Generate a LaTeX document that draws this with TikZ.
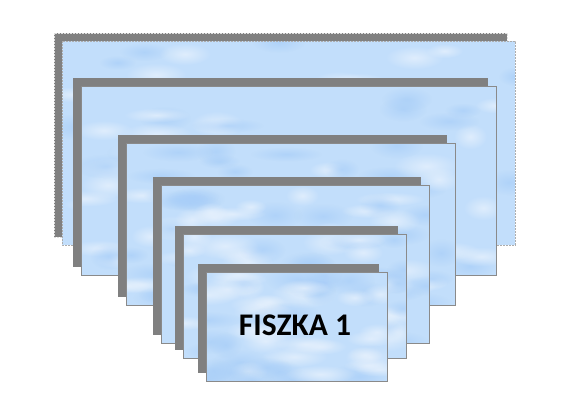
\documentclass[tikz,border=0pt]{standalone}
\usepackage{fontspec}
\setmainfont{Carlito}
\usetikzlibrary{fadings}
\definecolor{cardbase}{RGB}{194,222,251}
\definecolor{cardlight}{RGB}{230,241,253}
\definecolor{carddark}{RGB}{168,206,248}
\definecolor{shadowgray}{RGB}{128,128,128}
\definecolor{edgegray}{RGB}{138,138,138}
\tikzfading[name=fuzzyblob, inner color=transparent!0, outer color=transparent!100]
\tikzset{
  cardshadow/.style={fill=shadowgray, draw=none},
  cardface/.style={fill=cardbase, draw=none},
  cardedge/.style={draw=edgegray, line width=0.9pt},
  dashededge/.style={draw=edgegray!70, line width=0.9pt, dash pattern=on 2pt off 1pt},
  shadowedge/.style={draw=white!75!shadowgray, line width=0.7pt, dash pattern=on 2pt off 1pt},
  lightblob/.style={fill=cardlight, fill opacity=0.8, path fading=fuzzyblob},
  darkblob/.style={fill=carddark, fill opacity=0.7, path fading=fuzzyblob},
  cardlabel/.style={font=\bfseries\fontsize{31.5}{36}\selectfont, text=black},
}
% #1 x1, #2 y1, #3 x2, #4 y2 (pixels, y downwards), #5 edge style, #6 shadow extra
\newcommand\flashcard[6]{%
  \fill[cardshadow] (#1-8,#2-8) rectangle (#3-8,#4-8);
  \path[#6] (#1-8,#2-8) rectangle (#3-8,#4-8);
  \fill[cardface] (#1,#2) rectangle (#3,#4);
  \begin{scope}
    \clip (#1,#2) rectangle (#3,#4);
    \foreach \k in {1,...,50}{%
      \pgfmathsetmacro\bx{#1+rnd*(#3-#1)}%
      \pgfmathsetmacro\by{#2+rnd*(#4-#2)}%
      \pgfmathsetmacro\rx{16+rnd*20}%
      \pgfmathsetmacro\ry{7+rnd*7}%
      \pgfmathsetmacro\sel{rnd}%
      \ifdim\sel pt<0.5pt
        \fill[lightblob] (\bx,\by) ellipse [x radius=\rx pt, y radius=\ry pt];
      \else
        \fill[darkblob] (\bx,\by) ellipse [x radius=\rx pt, y radius=\ry pt];
      \fi
    }
  \end{scope}
  \draw[#5] (#1,#2) rectangle (#3,#4);
}
\begin{document}
\begin{tikzpicture}[x=1pt,y=-1pt]
  \pgfmathsetseed{4242}
  \useasboundingbox (0,0) rectangle (585,402);
  \flashcard{62}{41}{515}{245}{dashededge}{shadowedge}
  \flashcard{81}{86}{496}{275}{cardedge}{}
  \flashcard{126}{143}{455}{305}{cardedge}{}
  \flashcard{161}{185}{429}{343}{cardedge}{}
  \flashcard{183}{234}{406}{358}{cardedge}{}
  \flashcard{206}{272}{387}{381}{cardedge}{}
  \node[cardlabel] (label) at (295,325) {FISZKA 1};
\end{tikzpicture}
\end{document}
